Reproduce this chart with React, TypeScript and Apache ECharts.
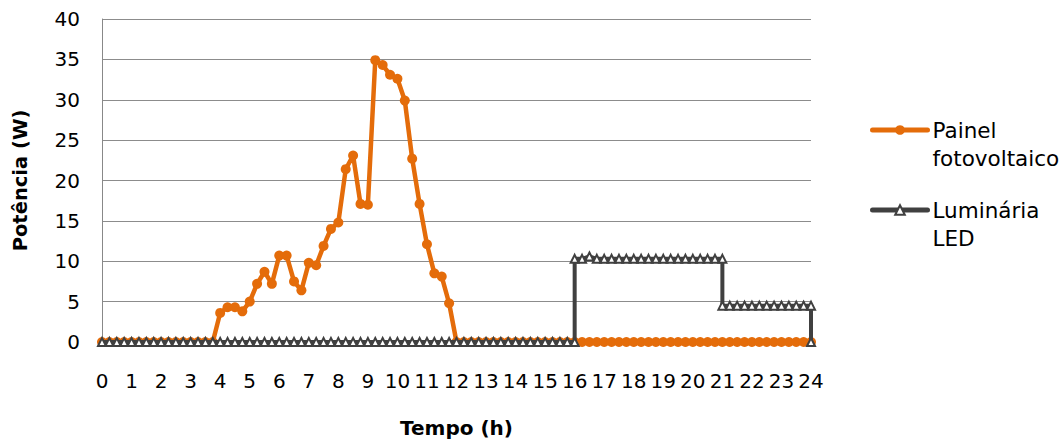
import React, { useEffect, useRef } from "react";
import * as echarts from "echarts";

const xTicks = [0, 24, 1];
const yTicks = [0, 40, 5];

const pvTimes = [
  0, 0.25, 0.5, 0.75, 1, 1.25, 1.5, 1.75, 2, 2.25, 2.5, 2.75, 3, 3.25, 3.5, 3.75,
  4, 4.25, 4.5, 4.75, 5, 5.25, 5.5, 5.75, 6, 6.25, 6.5, 6.75, 7, 7.25, 7.5, 7.75,
  8, 8.25, 8.5, 8.75, 9, 9.25, 9.5, 9.75, 10, 10.25, 10.5, 10.75, 11, 11.25, 11.5, 11.75,
  12, 12.25, 12.5, 12.75, 13, 13.25, 13.5, 13.75, 14, 14.25, 14.5, 14.75, 15, 15.25, 15.5, 15.75,
  16, 16.25, 16.5, 16.75, 17, 17.25, 17.5, 17.75, 18, 18.25, 18.5, 18.75, 19, 19.25, 19.5, 19.75,
  20, 20.25, 20.5, 20.75, 21, 21.25, 21.5, 21.75, 22, 22.25, 22.5, 22.75, 23, 23.25, 23.5, 23.75,
  24,
];
const pvValues = [
  0, 0, 0, 0, 0, 0, 0, 0, 0, 0, 0, 0, 0, 0, 0, 0,
  3.6, 4.3, 4.3, 3.8, 5.0, 7.2, 8.7, 7.2, 10.7, 10.7, 7.5, 6.4, 9.8, 9.5, 11.9, 14.0,
  14.8, 21.4, 23.1, 17.1, 17.0, 34.9, 34.3, 33.1, 32.6, 29.9, 22.7, 17.1, 12.1, 8.5, 8.1, 4.8,
  0, 0, 0, 0, 0, 0, 0, 0, 0, 0, 0, 0, 0, 0, 0, 0,
  0, 0, 0, 0, 0, 0, 0, 0, 0, 0, 0, 0, 0, 0, 0, 0,
  0, 0, 0, 0, 0, 0, 0, 0, 0, 0, 0, 0, 0, 0, 0, 0,
  0,
];

const ledTimes = [
  0, 0.25, 0.5, 0.75, 1, 1.25, 1.5, 1.75, 2, 2.25, 2.5, 2.75, 3, 3.25, 3.5, 3.75,
  4, 4.25, 4.5, 4.75, 5, 5.25, 5.5, 5.75, 6, 6.25, 6.5, 6.75, 7, 7.25, 7.5, 7.75,
  8, 8.25, 8.5, 8.75, 9, 9.25, 9.5, 9.75, 10, 10.25, 10.5, 10.75, 11, 11.25, 11.5, 11.75,
  12, 12.25, 12.5, 12.75, 13, 13.25, 13.5, 13.75, 14, 14.25, 14.5, 14.75, 15, 15.25, 15.5, 15.75,
  16, 16, 16.25, 16.5, 16.75, 17, 17.25, 17.5, 17.75, 18, 18.25, 18.5, 18.75, 19, 19.25, 19.5, 19.75,
  20, 20.25, 20.5, 20.75, 21, 21, 21.25, 21.5, 21.75, 22, 22.25, 22.5, 22.75, 23, 23.25, 23.5, 23.75,
  24, 24,
];
const ledValues = [
  0, 0, 0, 0, 0, 0, 0, 0, 0, 0, 0, 0, 0, 0, 0, 0,
  0, 0, 0, 0, 0, 0, 0, 0, 0, 0, 0, 0, 0, 0, 0, 0,
  0, 0, 0, 0, 0, 0, 0, 0, 0, 0, 0, 0, 0, 0, 0, 0,
  0, 0, 0, 0, 0, 0, 0, 0, 0, 0, 0, 0, 0, 0, 0, 0,
  0, 10.3, 10.3, 10.6, 10.3, 10.3, 10.3, 10.3, 10.3, 10.3, 10.3, 10.3, 10.3, 10.3, 10.3, 10.3, 10.3,
  10.3, 10.3, 10.3, 10.3, 10.3, 4.5, 4.5, 4.5, 4.5, 4.5, 4.5, 4.5, 4.5, 4.5, 4.5, 4.5, 4.5,
  4.5, 0,
];

const seriesNames = ["Painel fotovoltaico", "Luminária LED"];
const legendLabels = ["\nPainel\nfotovoltaico", "\nLuminária\nLED"];
const axisNames = ["Tempo (h)", "Potência (W)"];

const FONT = "DejaVu Sans";

export default function App() {
  const ref = useRef<HTMLDivElement>(null);
  useEffect(() => {
    if (!ref.current) return;
    const chart = echarts.init(ref.current, null, { renderer: "svg" });
    const pvData = pvTimes.map((t, i) => [t, pvValues[i]]);
    const ledData = ledTimes.map((t, i) => [t, ledValues[i]]);
    chart.setOption({
      animation: false,
      backgroundColor: "#ffffff",
      textStyle: { fontFamily: FONT },
      grid: { left: 102, right: 249, top: 19, bottom: 101, containLabel: false },
      legend: {
        orient: "vertical",
        left: 870,
        top: 88,
        padding: 0,
        itemGap: -4,
        itemWidth: 55,
        itemHeight: 12,
        data: seriesNames,
        lineStyle: { width: 5, cap: "round" },
        formatter: (name: string) => legendLabels[seriesNames.indexOf(name)],
        textStyle: {
          fontFamily: FONT,
          fontSize: 21.5,
          color: "#000",
          lineHeight: 28,
        },
      },
      xAxis: {
        type: "value",
        min: xTicks[0],
        max: xTicks[1],
        interval: xTicks[2],
        name: axisNames[0],
        nameLocation: "middle",
        nameGap: 76,
        nameTextStyle: { fontFamily: FONT, fontSize: 20, fontWeight: "bold", color: "#000" },
        axisLine: { show: true, lineStyle: { color: "#888", width: 1 } },
        axisTick: { show: true, length: 4, lineStyle: { color: "#888" } },
        axisLabel: { fontFamily: FONT, fontSize: 20, color: "#000", margin: 29 },
        splitLine: { show: false },
      },
      yAxis: {
        type: "value",
        min: yTicks[0],
        max: yTicks[1],
        interval: yTicks[2],
        name: axisNames[1],
        nameLocation: "middle",
        nameGap: 72,
        nameTextStyle: { fontFamily: FONT, fontSize: 19.5, fontWeight: "bold", color: "#000" },
        axisLine: { show: true, lineStyle: { color: "#888", width: 1 } },
        axisTick: { show: false },
        axisLabel: { fontFamily: FONT, fontSize: 20, color: "#000", margin: 22 },
        splitLine: { show: true, lineStyle: { color: "#8c8c8c", width: 1 } },
      },
      series: [
        {
          name: seriesNames[0],
          type: "line",
          data: pvData,
          symbol: "circle",
          symbolSize: 10,
          showAllSymbol: true,
          lineStyle: { color: "#E46C0A", width: 4.5 },
          itemStyle: { color: "#E46C0A", borderColor: "#E46C0A", borderWidth: 0 },
          z: 2,
        },
        {
          name: seriesNames[1],
          type: "line",
          data: ledData,
          symbol: "triangle",
          symbolSize: 8,
          showAllSymbol: true,
          lineStyle: { color: "#404040", width: 4 },
          itemStyle: { color: "#ffffff", borderColor: "#404040", borderWidth: 2 },
          z: 3,
        },
      ],
    });
    return () => chart.dispose();
  }, []);
  return (
    <div
      ref={ref}
      style={{ position: "fixed", left: 0, top: 0, width: 1060, height: 443, background: "#fff" }}
    />
  );
}
